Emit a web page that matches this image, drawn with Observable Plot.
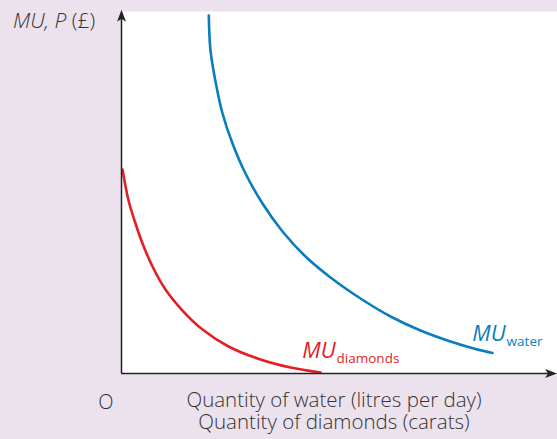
<!DOCTYPE html>
<html>
<head>
<meta charset="utf-8">
<script src="https://cdn.jsdelivr.net/npm/d3@7"></script>
<script src="https://cdn.jsdelivr.net/npm/@observablehq/plot@0.6"></script>
<style>
  html, body { margin: 0; padding: 0; background: #ece2ee; }
</style>
</head>
<body>
<div id="chart"></div>
<script>
// Marginal utility curves (arbitrary units 0–100)
const diamondsX = [0.23, 1.61, 3.21, 4.82, 7.11, 10.09, 13.99, 18.58, 24.54, 31.88, 38.76, 45.64];
const diamondsY = [56.35, 47.79, 41.44, 35.91, 29.56, 23.20, 17.40, 12.15, 7.46, 3.87, 1.66, 0.28];
const waterX = [20.02, 20.41, 21.56, 23.17, 25.46, 28.44, 32.34, 36.93, 42.20, 47.94, 54.82, 61.70, 68.58, 75.46, 81.19, 85.09];
const waterY = [98.90, 89.23, 80.66, 71.82, 63.54, 55.25, 46.96, 39.23, 32.32, 26.52, 20.72, 15.75, 11.88, 8.84, 6.77, 5.66];

const labels = [
  {main: "MU", sub: "diamonds", x: 49.1, y: 4.4, color: "#e31e26"},
  {main: "MU", sub: "water", x: 88.1, y: 9.1, color: "#0a7dbc"}
];
const xTitle = ["Quantity of water (litres per day)", "Quantity of diamonds (carats)"];
const originLabel = "O";

const diamonds = diamondsX.map((x, i) => ({x, y: diamondsY[i]}));
const water = waterX.map((x, i) => ({x, y: waterY[i]}));

const arrowHead = {
  draw(ctx) {
    ctx.moveTo(0, 0);
    ctx.lineTo(4.5, 12);
    ctx.lineTo(0, 9);
    ctx.lineTo(-4.5, 12);
    ctx.closePath();
  }
};

const font = "'Open Sans', 'Noto Sans', sans-serif";
const axisColor = "#222";

const chart = Plot.plot({
  width: 557,
  height: 439,
  marginLeft: 121,
  marginRight: 0,
  marginTop: 11,
  marginBottom: 66,
  style: {background: "#ece2ee", fontFamily: font},
  x: {domain: [0, 100], axis: null},
  y: {domain: [0, 100], axis: null},
  marks: [
    Plot.frame({fill: "white", stroke: "none"}),
    Plot.line(diamonds, {x: "x", y: "y", stroke: "#e31e26", strokeWidth: 2.6, curve: "catmull-rom"}),
    Plot.line(water, {x: "x", y: "y", stroke: "#0a7dbc", strokeWidth: 2.6, curve: "catmull-rom"}),
    Plot.ruleX([0], {y1: 0, y2: 99, stroke: axisColor, strokeWidth: 1.5}),
    Plot.ruleY([0], {x1: 0, x2: 99, stroke: axisColor, strokeWidth: 1.5}),
    Plot.dot([{x: 0, y: 100.5}], {x: "x", y: "y", symbol: arrowHead, fill: axisColor, stroke: "none", r: 4}),
    Plot.dot([{x: 99.9, y: 0}], {x: "x", y: "y", symbol: arrowHead, fill: axisColor, stroke: "none", r: 4, rotate: 90}),
    Plot.text(labels, {x: "x", y: "y", text: "main", fill: "color", textAnchor: "end", lineAnchor: "bottom", fontSize: 22, fontStyle: "italic"}),
    Plot.text(labels, {x: "x", y: "y", text: "sub", fill: "color", textAnchor: "start", lineAnchor: "bottom", fontSize: 13.5, dx: 1, dy: 5})
  ]
});

document.getElementById("chart").appendChild(chart);

const svg = d3.select(chart);
const t = svg.append("text")
  .attr("x", 13).attr("y", 28).attr("text-anchor", "start")
  .attr("font-size", 21).attr("font-weight", 300).attr("fill", "#333").attr("font-family", font);
t.append("tspan").attr("font-style", "italic").text("MU, P");
t.append("tspan").text(" (£)");

svg.append("text").attr("x", 106).attr("y", 409).attr("text-anchor", "middle")
  .attr("font-size", 20).attr("font-weight", 300).attr("fill", "#333").attr("font-family", font).text(originLabel);

svg.append("g").selectAll("text").data(xTitle).join("text")
  .attr("x", 334).attr("y", (d, i) => 407 + i * 22).attr("text-anchor", "middle")
  .attr("font-size", 20.5).attr("font-weight", 300).attr("fill", "#333").attr("font-family", font).text(d => d);
</script>
</body>
</html>
